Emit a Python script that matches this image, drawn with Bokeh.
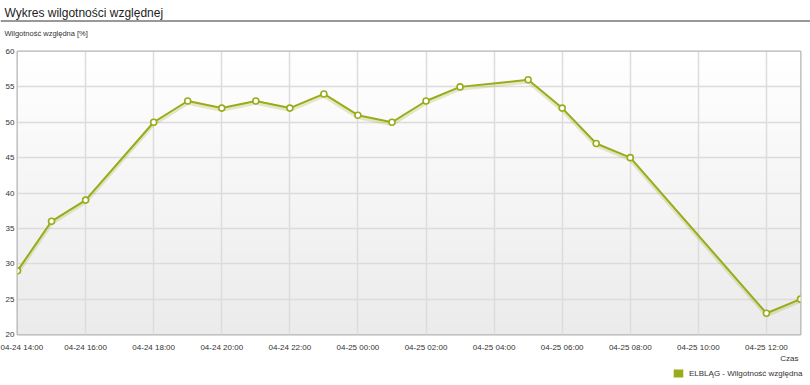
import numpy as np
import pandas as pd
from bokeh.plotting import figure
from bokeh.layouts import column
from bokeh.models import (Range1d, FixedTicker, DatetimeTickFormatter, Label, Span,
                          Legend, LegendItem, ColumnDataSource)
from bokeh.transform import dodge
from bokeh.embed import file_html
from bokeh.resources import INLINE

# ---- data ----
times = ["2013-04-24 14:00", "2013-04-24 15:00", "2013-04-24 16:00", "2013-04-24 18:00",
         "2013-04-24 19:00", "2013-04-24 20:00", "2013-04-24 21:00", "2013-04-24 22:00",
         "2013-04-24 23:00", "2013-04-25 00:00", "2013-04-25 01:00", "2013-04-25 02:00",
         "2013-04-25 03:00", "2013-04-25 05:00", "2013-04-25 06:00", "2013-04-25 07:00",
         "2013-04-25 08:00", "2013-04-25 12:00", "2013-04-25 13:00"]
humidity = [29, 36, 39, 50, 53, 52, 53, 52, 54, 51, 50, 53, 55, 56, 52, 47, 45, 23, 25]
tick_times = ["2013-04-24 14:00", "2013-04-24 16:00", "2013-04-24 18:00", "2013-04-24 20:00",
              "2013-04-24 22:00", "2013-04-25 00:00", "2013-04-25 02:00", "2013-04-25 04:00",
              "2013-04-25 06:00", "2013-04-25 08:00", "2013-04-25 10:00", "2013-04-25 12:00"]
y_ticks = [20, 25, 30, 35, 40, 45, 50, 55, 60]
series_name = "ELBLĄG - Wilgotność względna"
title_text = "Wykres wilgotności względnej"
y_title = "Wilgotność względna [%]"
x_title = "Czas"

LINE = "#9aab1c"
FONT = "Liberation Sans"
W = 810
HEAD_H = 45
MAIN_H = 309
FOOT_H = 385 - HEAD_H - MAIN_H


def blank(h):
    f = figure(width=W, height=h, x_range=Range1d(0, W), y_range=Range1d(0, h),
               output_backend="svg", toolbar_location=None,
               x_axis_location=None, y_axis_location=None,
               min_border=0, outline_line_color=None, background_fill_color="white",
               border_fill_color="white", frame_align=False)
    f.grid.visible = False
    return f


# ---- header: title with underline, y-axis title ----
head = blank(HEAD_H)
head.add_layout(Label(x=4, y=HEAD_H - 12.5, text=title_text, text_font=FONT,
                      text_font_size="12px", text_color="#222222", text_baseline="middle"))
head.add_layout(Span(location=HEAD_H - 20.5, dimension="width", line_color="#333333", line_width=1))
head.add_layout(Label(x=4, y=HEAD_H - 33, text=y_title, text_font=FONT,
                      text_font_size="7.5px", text_color="#333333", text_baseline="middle"))

# ---- main chart ----
t = pd.to_datetime(times)
src = ColumnDataSource(dict(t=t, h=humidity))
t0, t1 = t[0], t[-1]
tick_ms = [pd.Timestamp(s).value // 10**6 for s in tick_times]

p = figure(width=W, height=MAIN_H, x_axis_type="datetime",
           x_range=Range1d(t0, t1), y_range=Range1d(y_ticks[0], y_ticks[-1]),
           output_backend="svg", toolbar_location=None, frame_align=False,
           min_border_left=17, min_border_right=10, min_border_top=6,
           min_border_bottom=20, background_fill_color="#f4f4f4", border_fill_color="white")

# vertical gradient background of plot area
N = 64
img = np.empty((N, 1), dtype=np.uint32)
view = img.view(dtype=np.uint8).reshape((N, 1, 4))
for i in range(N):
    f = i / (N - 1)
    c = int(round(0xeb + (0xff - 0xeb) * f))
    view[i, 0, :] = [c, c, c, 255]
span_ms = (t1 - t0).total_seconds() * 1000
p.image_rgba(image=[img], x=t0, y=y_ticks[0], dw=span_ms, dh=y_ticks[-1] - y_ticks[0], level="image")

p.outline_line_color = "#b3b3b3"
p.outline_line_width = 2

p.xaxis.ticker = FixedTicker(ticks=tick_ms)
fmt = "%m-%d %H:%M"
p.xaxis.formatter = DatetimeTickFormatter(microseconds=fmt, milliseconds=fmt, seconds=fmt,
                                          minsec=fmt, minutes=fmt, hourmin=fmt, hours=fmt,
                                          days=fmt, months=fmt, years=fmt)
p.yaxis.ticker = FixedTicker(ticks=y_ticks)
for ax in (p.xaxis, p.yaxis):
    ax.axis_line_color = None
    ax.major_tick_line_color = None
    ax.minor_tick_line_color = None
    ax.major_tick_in = 0
    ax.major_tick_out = 0
    ax.major_label_text_font = FONT
    ax.major_label_text_font_size = "8px"
    ax.major_label_text_color = "#333333"
p.xaxis.major_label_standoff = 8
p.yaxis.major_label_standoff = 3

p.grid.grid_line_color = "#dcdcdc"
p.grid.grid_line_width = 1.5

# line with soft shadow
p.line(x="t", y=dodge("h", -0.25), source=src, line_color=LINE, line_alpha=0.25, line_width=4)
p.line(x="t", y="h", source=src, line_color=LINE, line_width=2)
p.scatter(x="t", y="h", source=src, size=6, fill_color="white", line_color=LINE, line_width=1.6)

# ---- footer: x-axis title and legend ----
foot = blank(FOOT_H)
foot.add_layout(Label(x=798, y=FOOT_H - 4, text=x_title, text_font=FONT, text_font_size="8px",
                      text_color="#333333", text_baseline="middle", text_align="right"))
# zero-size renderer that only supplies the legend swatch
sw = foot.quad(left=[0], right=[0], top=[0], bottom=[0], fill_color=LINE, line_color=None)
legend = Legend(items=[LegendItem(label=series_name, renderers=[sw])],
                location=(672, 7), padding=0, margin=0, border_line_color=None,
                background_fill_alpha=0, glyph_width=12, glyph_height=10,
                label_text_font=FONT, label_text_font_size="8px", label_text_color="#333333",
                label_standoff=5, label_height=10)
foot.add_layout(legend)

open("out.html", "w").write(file_html(column(head, p, foot, spacing=0), INLINE))
